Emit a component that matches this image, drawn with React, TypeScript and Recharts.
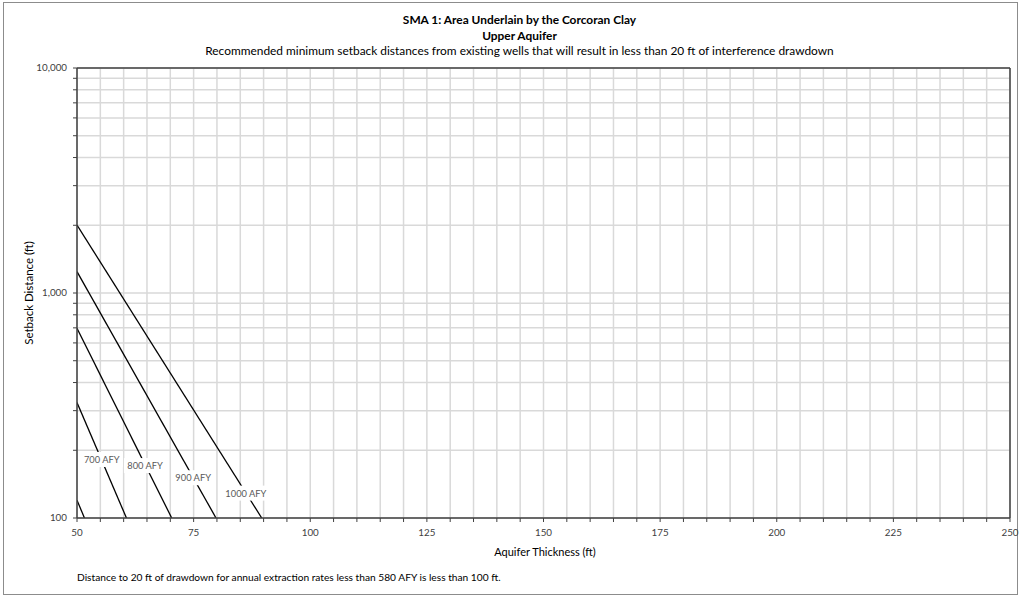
import React from 'react';
import {
  CartesianGrid,
  ComposedChart,
  Line,
  ReferenceLine,
  Scatter,
  XAxis,
  YAxis,
} from 'recharts';

const FONT = "Lato, 'Open Sans', sans-serif";

const X_TICKS = [
  50, 55, 60, 65, 70, 75, 80, 85, 90, 95, 100, 105, 110, 115, 120, 125, 130, 135, 140, 145, 150,
  155, 160, 165, 170, 175, 180, 185, 190, 195, 200, 205, 210, 215, 220, 225, 230, 235, 240, 245, 250,
];
const X_LABELED = [50, 75, 100, 125, 150, 175, 200, 225, 250];

const Y_TICKS = [
  100, 200, 300, 400, 500, 600, 700, 800, 900, 1000, 2000, 3000, 4000, 5000, 6000, 7000, 8000,
  9000, 10000,
];
const Y_LABELED = [100, 1000, 10000];

// setback curves (straight on log axis)
const line600 = [
  { x: 50, y: 120 },
  { x: 51.6, y: 100 },
];
const line700 = [
  { x: 50, y: 326 },
  { x: 60.6, y: 100 },
];
const line800 = [
  { x: 50, y: 697 },
  { x: 70.3, y: 100 },
];
const line900 = [
  { x: 50, y: 1244 },
  { x: 79.8, y: 100 },
];
const line1000 = [
  { x: 50, y: 2004 },
  { x: 89.6, y: 100 },
];

const curveLabels = [
  { x: 55.3, y: 182, text: '700 AFY' },
  { x: 64.6, y: 171, text: '800 AFY' },
  { x: 74.9, y: 151, text: '900 AFY' },
  { x: 86.2, y: 129, text: '1000 AFY' },
];

const SERIES = [line600, line700, line800, line900, line1000];

function CurveLabel(props: any) {
  const { cx, cy, payload } = props;
  const w = payload.text.length * 5.2 + 6;
  return (
    <g>
      <rect x={cx - w / 2} y={cy - 7.5} width={w} height={15} fill="#fff" />
      <text
        x={cx}
        y={cy}
        textAnchor="middle"
        dominantBaseline="central"
        fontSize={9.3}
        fontFamily={FONT}
        fill="#595959"
      >
        {payload.text}
      </text>
    </g>
  );
}

const fmtThousands = (v: number) => v.toLocaleString('en-US');

export default function App() {
  return (
    <div
      style={{
        position: 'relative',
        width: 1019,
        height: 596,
        background: '#fff',
        fontFamily: FONT,
        overflow: 'hidden',
      }}
    >
      <style>{'body{margin:0}'}</style>
      <div
        style={{
          position: 'absolute',
          left: 3,
          top: 2,
          width: 1013,
          height: 591,
          border: '1px solid #8c8c8c',
        }}
      />
      <div
        style={{
          position: 'absolute',
          top: 12,
          left: 0,
          width: 1039,
          textAlign: 'center',
          fontSize: 11.9,
          lineHeight: '15.5px',
          color: '#000',
        }}
      >
        <div style={{ fontWeight: 'bold' }}>SMA 1: Area Underlain by the Corcoran Clay</div>
        <div style={{ fontWeight: 'bold' }}>Upper Aquifer</div>
        <div>
          Recommended minimum setback distances from existing wells that will result in less than 20
          ft of interference drawdown
        </div>
      </div>

      <div style={{ position: 'absolute', left: 0, top: 0 }}>
        <ComposedChart
          width={1019}
          height={596}
          margin={{ top: 68, right: 9, bottom: 48, left: 17 }}
        >
          <CartesianGrid
            stroke="#d9d9d9"
            strokeWidth={1.5}
            horizontalValues={Y_TICKS}
            verticalValues={X_TICKS}
          />
          <XAxis
            type="number"
            dataKey="x"
            domain={[50, 250]}
            ticks={X_TICKS}
            interval={0}
            allowDataOverflow
            height={30}
            tickSize={4}
            tickMargin={7}
            tick={{ fontSize: 9.8, fill: '#404040', fontFamily: FONT }}
            tickFormatter={(v: number) => (X_LABELED.includes(v) ? String(v) : '')}
            axisLine={{ stroke: '#404040', strokeWidth: 1.5 }}
            tickLine={{ stroke: '#404040' }}
          />
          <YAxis
            type="number"
            dataKey="y"
            scale="log"
            domain={[100, 10000]}
            ticks={Y_TICKS}
            interval={0}
            allowDataOverflow
            width={60}
            tickSize={4}
            tickMargin={6}
            tick={{ fontSize: 9.8, fill: '#404040', fontFamily: FONT }}
            tickFormatter={(v: number) => (Y_LABELED.includes(v) ? fmtThousands(v) : '')}
            axisLine={{ stroke: '#404040', strokeWidth: 1.5 }}
            tickLine={{ stroke: '#404040' }}
          />
          <ReferenceLine y={10000} stroke="#404040" strokeWidth={1.5} />
          <ReferenceLine x={250} stroke="#404040" strokeWidth={1.5} />
          {SERIES.map((d, i) => (
            <Line
              key={i}
              data={d}
              dataKey="y"
              stroke="#000"
              strokeWidth={1.3}
              dot={false}
              activeDot={false}
              isAnimationActive={false}
            />
          ))}
          <Scatter
            data={curveLabels}
            dataKey="y"
            shape={<CurveLabel />}
            isAnimationActive={false}
          />
        </ComposedChart>
      </div>

      <div
        style={{
          position: 'absolute',
          left: 28,
          top: 293,
          transform: 'translate(-50%, -50%) rotate(-90deg)',
          fontSize: 11.5,
          color: '#000',
          whiteSpace: 'nowrap',
        }}
      >
        Setback Distance (ft)
      </div>
      <div
        style={{
          position: 'absolute',
          left: 545,
          top: 551,
          transform: 'translate(-50%, -50%)',
          fontSize: 11,
          color: '#000',
          whiteSpace: 'nowrap',
        }}
      >
        Aquifer Thickness (ft)
      </div>
      <div
        style={{
          position: 'absolute',
          left: 77,
          top: 577,
          transform: 'translateY(-50%)',
          fontSize: 10.2,
          color: '#000',
          whiteSpace: 'nowrap',
        }}
      >
        Distance to 20 ft of drawdown for annual extraction rates less than 580 AFY is less than 100
        ft.
      </div>
    </div>
  );
}
